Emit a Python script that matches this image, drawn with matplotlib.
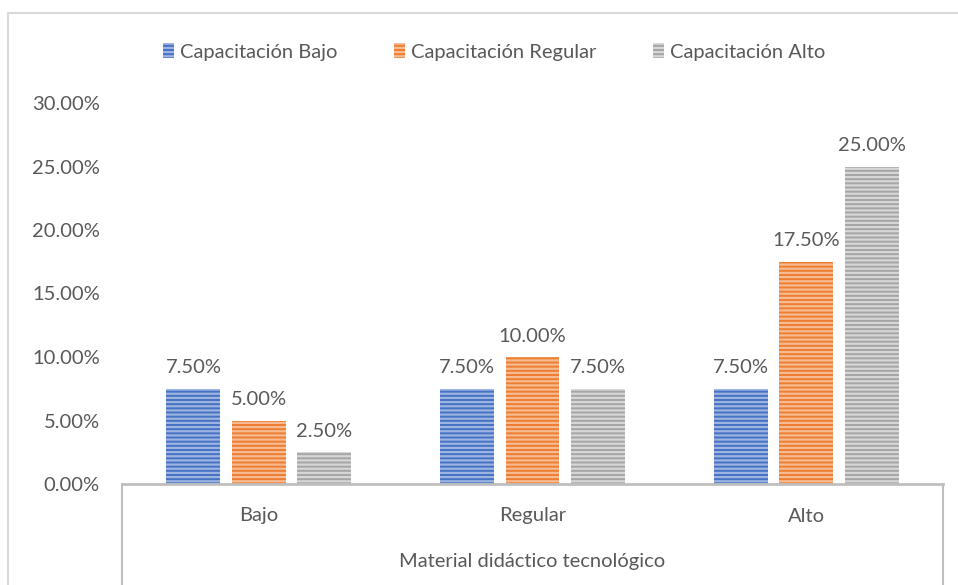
import numpy as np
import matplotlib
matplotlib.use("Agg")
import matplotlib.pyplot as plt
from matplotlib.lines import Line2D

categories = ["Bajo", "Regular", "Alto"]
series_names = ["Capacitación Bajo", "Capacitación Regular", "Capacitación Alto"]
cap_bajo = [7.5, 7.5, 7.5]
cap_regular = [5.0, 10.0, 17.5]
cap_alto = [2.5, 7.5, 25.0]
yticks = [0, 5, 10, 15, 20, 25, 30]
xlabel = "Material didáctico tecnológico"

colors = ["#4472C4", "#ED7D31", "#A5A5A5"]
stripe_colors = ["#9db4e0", "#f6bb92", "#d6d6d6"]
text_color = "#595959"
fs = 14.5

plt.rcParams["font.family"] = ["Lato", "DejaVu Sans"]
plt.rcParams["hatch.linewidth"] = 1.6

fig = plt.figure(figsize=(9.58, 5.85), dpi=100)
W, H = 958, 585
ax = fig.add_axes([122 / W, 1 - 484 / H, (943 - 122) / W, (484 - 103) / H])

x = np.arange(len(categories))
width = 0.197
step = 0.239
for i, vals in enumerate([cap_bajo, cap_regular, cap_alto]):
    pos = x + (i - 1) * step
    ax.bar(pos, vals, width, color=colors[i], edgecolor=stripe_colors[i],
           linewidth=0, hatch="----", label=series_names[i])
    for p, v in zip(pos, vals):
        ax.annotate("{:.2f}%".format(v), (p, v), xytext=(0, 9), textcoords="offset points",
                    ha="center", va="bottom", fontsize=fs, color=text_color)

ax.set_xlim(-0.5, 2.5)
ax.set_ylim(0, 30)
ax.set_yticks(yticks)
ax.set_yticklabels(["{:.2f}%".format(t) for t in yticks])
ax.set_xticks([])
ax.tick_params(axis="y", length=0, pad=16, labelsize=fs, labelcolor=text_color)
for s in ["top", "right", "left"]:
    ax.spines[s].set_visible(False)
ax.spines["bottom"].set_color("#bfbfbf")
ax.spines["bottom"].set_linewidth(2)

# category box below the axis
for xe in [-0.5, 2.5]:
    ax.add_line(Line2D([xe, xe], [0, -8.0], color="#bfbfbf", lw=1.5, clip_on=False))
for xi, c in zip(x, categories):
    fig.text((122 + (xi + 0.5) * (821 / 3)) / W, 1 - 516 / H, c, ha="center", va="center",
             fontsize=fs, color=text_color)
fig.text((122 + 821 / 2) / W, 1 - 561 / H, xlabel, ha="center", va="center",
         fontsize=fs, color=text_color)

# outer chart border
fig.add_artist(Line2D([8 / W, 8 / W, 1], [0, 1 - 13 / H, 1 - 13 / H], color="#d9d9d9",
                      lw=1.5, transform=fig.transFigure))

ax.legend(loc="center", bbox_to_anchor=(494 / W, 1 - 52 / H), bbox_transform=fig.transFigure,
          ncol=3, frameon=False, fontsize=fs, labelcolor=text_color, handlelength=0.55,
          handleheight=0.7, handletextpad=0.3, columnspacing=2.8)

fig.savefig("out.png", dpi=100)
